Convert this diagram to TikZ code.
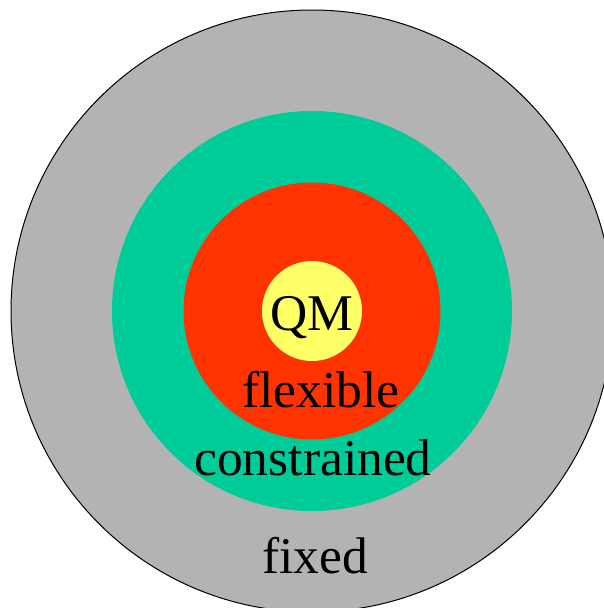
\documentclass[tikz,border=0pt]{standalone}
\usepackage{fontspec}
\setmainfont{Liberation Serif}
\definecolor{regfixed}{HTML}{B3B3B3}
\definecolor{regcons}{HTML}{00CC99}
\definecolor{regflex}{HTML}{FF3300}
\definecolor{regqm}{HTML}{FFFF66}
\begin{document}
\begin{tikzpicture}[x=1pt,y=-1pt,
  lbl/.style={anchor=base,inner sep=0pt,font=\fontsize{51.5}{60}\selectfont}]

\useasboundingbox (0,0) rectangle (604,608);
\clip (0,0) rectangle (604,608);

\filldraw[fill=regfixed,line width=1pt] (312,311) circle (301);
\fill[regcons] (312,311) circle (200);
\fill[regflex] (312,311) circle (128.5);
\fill[regqm] (312,311) circle (50);

\node[lbl] (qm) at (312,330) {QM};
\node[lbl] (flex) at (321,407) {flexible};
\node[lbl] (cons) at (313,475) {constrained};
\node[lbl] (fixd) at (315,573) {fixed};

\end{tikzpicture}
\end{document}
